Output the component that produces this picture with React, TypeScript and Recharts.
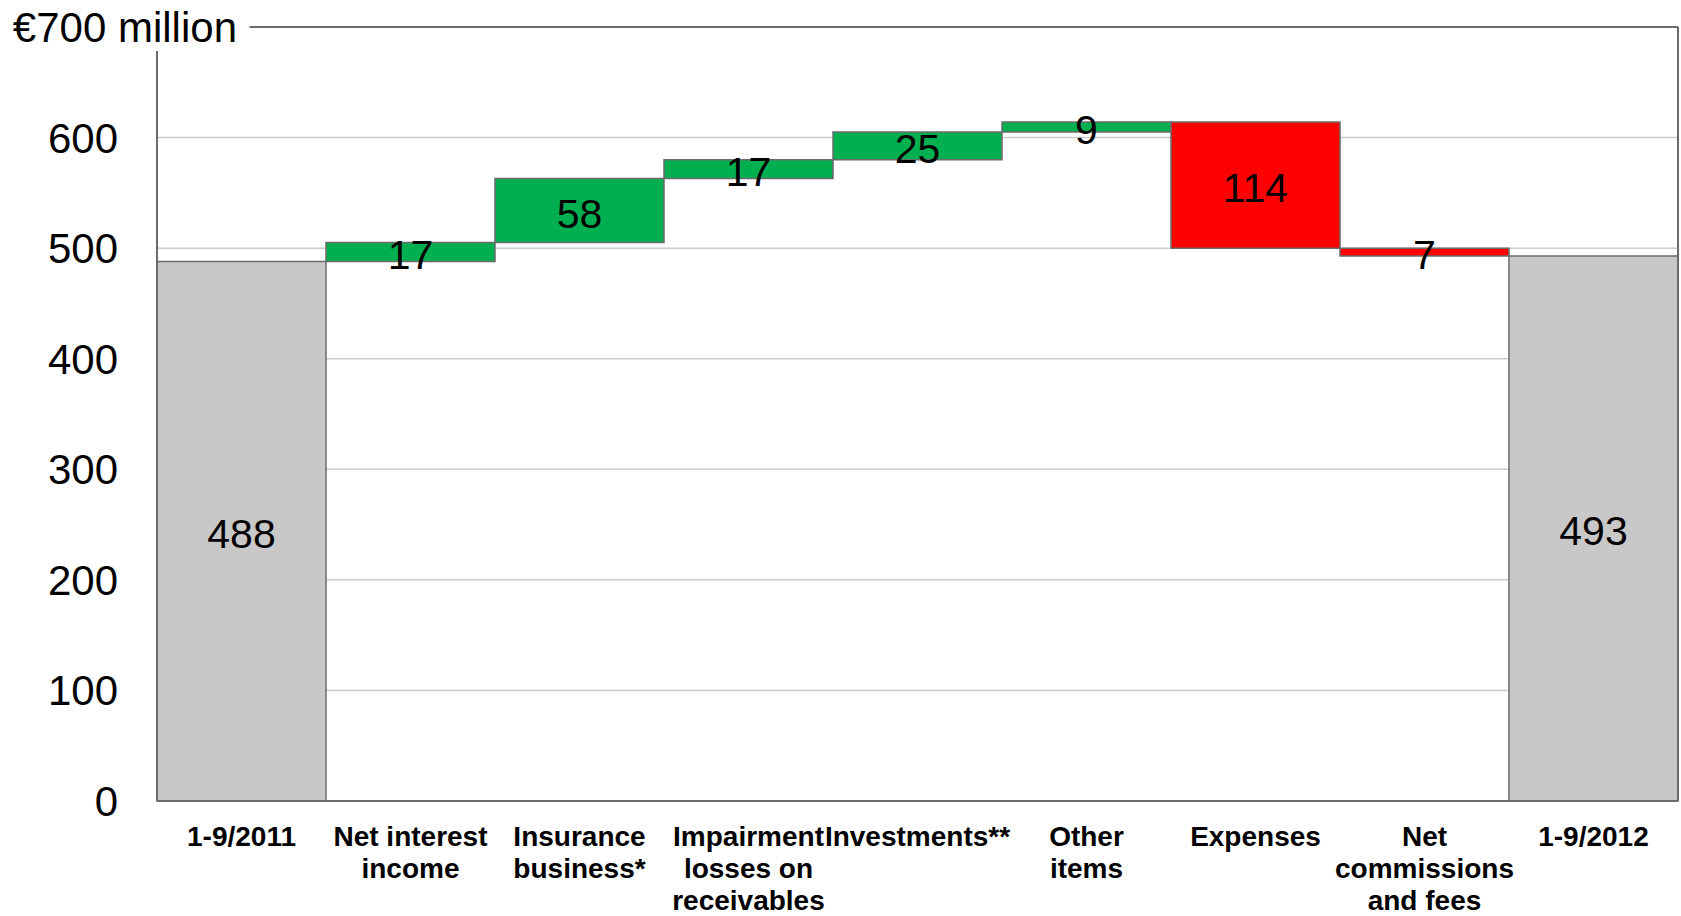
import React from 'react';
import { BarChart, Bar, XAxis, YAxis, CartesianGrid, Cell, LabelList } from 'recharts';

const categories = [
  '1-9/2011',
  'Net interest income',
  'Insurance business*',
  'Impairment losses on receivables',
  'Investments**',
  'Other items',
  'Expenses',
  'Net commissions and fees',
  '1-9/2012',
];
const categoryLines = [
  ['1-9/2011'],
  ['Net interest', 'income'],
  ['Insurance', 'business*'],
  ['Impairment', 'losses on', 'receivables'],
  ['Investments**'],
  ['Other', 'items'],
  ['Expenses'],
  ['Net', 'commissions', 'and fees'],
  ['1-9/2012'],
];
const values = [488, 17, 58, 17, 25, 9, -114, -7, 493];
const kinds = ['total', 'delta', 'delta', 'delta', 'delta', 'delta', 'delta', 'delta', 'total'];
const yTicks = [0, 100, 200, 300, 400, 500, 600, 700];
const yTickLabels = ['0', '100', '200', '300', '400', '500', '600', '€700 million'];

const W = 1681;
const H = 916;
const FONT = '"Liberation Sans", Arial, Helvetica, sans-serif';
const FRAME = '#6b6b6b';
const GRID = '#cccccc';
const GRAY = '#c8c8c8';
const GREEN = '#00b050';
const RED = '#ff0000';

let running = 0;
const data = categories.map((name, i) => {
  const v = values[i];
  let base = 0;
  let size = 0;
  let color = GRAY;
  if (kinds[i] === 'total') {
    base = 0;
    size = v;
    running = v;
  } else if (v >= 0) {
    base = running;
    size = v;
    running += v;
    color = GREEN;
  } else {
    running += v;
    base = running;
    size = -v;
    color = RED;
  }
  return { name, base, size, label: Math.abs(v), color };
});

const YTick = (props: any) => {
  const { x, y, payload } = props;
  const idx = yTicks.indexOf(payload.value);
  const label = yTickLabels[idx];
  if (payload.value === 700) {
    return (
      <g>
        <rect x={0} y={0} width={x + 91} height={y + 24} fill="#ffffff" />
        <text x={x + 80} y={y + 15} textAnchor="end" fontSize={42} fontFamily={FONT} fill="#000">
          {label}
        </text>
        <line x1={x + 93} x2={W - 3} y1={y} y2={y} stroke={FRAME} strokeWidth={2} />
      </g>
    );
  }
  return (
    <text x={x - 39} y={y + 15} textAnchor="end" fontSize={42} fontFamily={FONT} fill="#000">
      {label}
    </text>
  );
};

const XTick = (props: any) => {
  const { x, y, payload } = props;
  const lines = categoryLines[payload.index] || [String(payload.value)];
  return (
    <text x={x} y={y + 45} textAnchor="middle" fontSize={28} fontWeight="bold" fontFamily={FONT} fill="#000">
      {lines.map((l, i) => (
        <tspan key={i} x={x} dy={i === 0 ? 0 : 32}>
          {l}
        </tspan>
      ))}
    </text>
  );
};

const ValueLabel = (props: any) => {
  const vb = props.viewBox || props;
  const x = vb.x ?? props.x;
  const y = vb.y ?? props.y;
  const w = vb.width ?? props.width;
  const h = vb.height ?? props.height;
  return (
    <text
      x={x + w / 2}
      y={y + h / 2 + 17}
      textAnchor="middle"
      fontSize={41}
      fontFamily={FONT}
      fill="#000"
    >
      {props.value}
    </text>
  );
};

export default function App() {
  return (
    <div style={{ position: 'fixed', left: 0, top: 0, width: W, height: H, background: '#fff' }}>
      <BarChart
        width={W}
        height={H}
        data={data}
        margin={{ top: 27, right: 0, bottom: 0, left: 0 }}
        barCategoryGap={0}
        barGap={0}
      >
        <CartesianGrid yAxisId="left" vertical={false} stroke={GRID} strokeWidth={1.5} />
        <XAxis
          dataKey="name"
          height={115}
          interval={0}
          tickLine={false}
          tickSize={0}
          tickMargin={0}
          axisLine={{ stroke: FRAME, strokeWidth: 2 }}
          tick={<XTick />}
        />
        <YAxis
          yAxisId="left"
          width={157}
          domain={[0, 700]}
          ticks={yTicks}
          interval={0}
          tickLine={false}
          tickSize={0}
          tickMargin={0}
          axisLine={{ stroke: FRAME, strokeWidth: 2 }}
          tick={<YTick />}
        />
        <YAxis
          yAxisId="right"
          orientation="right"
          width={3}
          domain={[0, 700]}
          ticks={yTicks}
          tick={false}
          tickLine={false}
          axisLine={{ stroke: FRAME, strokeWidth: 2 }}
        />
        <Bar yAxisId="left" dataKey="base" stackId="w" fill="transparent" isAnimationActive={false} />
        <Bar
          yAxisId="left"
          dataKey="size"
          stackId="w"
          stroke={FRAME}
          strokeWidth={1.5}
          isAnimationActive={false}
        >
          {data.map((d, i) => (
            <Cell key={i} fill={d.color} />
          ))}
          <LabelList dataKey="label" content={<ValueLabel />} />
        </Bar>
      </BarChart>
    </div>
  );
}
